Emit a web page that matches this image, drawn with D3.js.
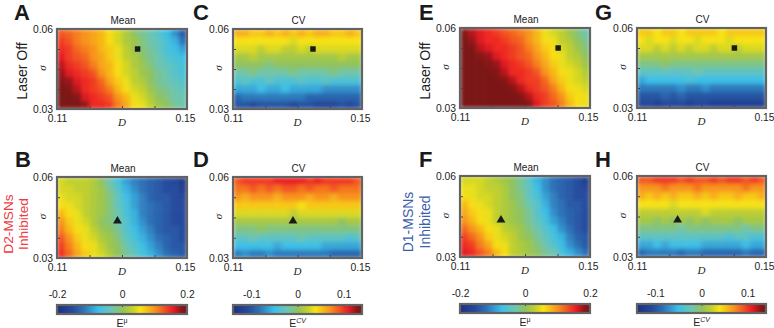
<!DOCTYPE html>
<html>
<head>
<meta charset="utf-8">
<script src="https://cdn.jsdelivr.net/npm/d3@7"></script>
<style>
  body { margin: 0; background: #fff; }
  text { font-family: "Liberation Sans", Arial, sans-serif; fill: #222; }
  .sym { font-family: "Liberation Serif", serif; font-style: italic; }
</style>
</head>
<body>
<svg id="chart" width="774" height="328"></svg>
<script>
var meanA = [
  [13,12,11,10,9,8,6,4,2,0,-2,-3,-5,-7,-10,-14],
  [14,13,11,10,9,8,6,4,2,1,-1,-3,-4,-6,-8,-12],
  [15,14,12,11,10,8,7,5,3,1,-1,-2,-4,-6,-7,-9],
  [16,14,13,12,10,9,7,5,3,2,0,-2,-3,-5,-6,-7],
  [17,15,14,13,11,9,8,6,4,2,1,-1,-3,-4,-5,-6],
  [18,16,15,14,13,10,8,6,4,3,1,0,-2,-3,-5,-6],
  [19,18,16,15,14,12,9,7,5,3,2,0,-2,-3,-4,-5],
  [20,19,17,15,14,13,11,8,6,4,3,1,-1,-2,-3,-4],
  [20,20,19,16,15,14,13,10,8,5,4,2,0,-1,-3,-3],
  [20,20,20,18,15,15,14,11,9,6,5,3,1,0,-2,-3]
];
var meanB = [
  [4,3,3,3,2,0,-3,-6,-9,-11,-12,-13,-14,-15,-16,-18],
  [4,4,3,3,2,1,-2,-5,-8,-10,-12,-13,-14,-15,-15,-17],
  [5,4,4,3,2,1,-1,-4,-7,-9,-11,-13,-14,-14,-15,-16],
  [6,5,4,3,2,1,-1,-4,-6,-9,-11,-12,-13,-14,-15,-15],
  [8,6,5,3,2,1,-1,-3,-6,-8,-11,-12,-13,-14,-15,-15],
  [10,7,5,4,2,0,-1,-3,-5,-8,-10,-12,-13,-14,-15,-15],
  [11,8,6,5,3,1,0,-2,-5,-7,-9,-11,-13,-14,-14,-15],
  [13,10,7,5,4,2,1,-1,-4,-6,-8,-10,-12,-13,-14,-15],
  [14,11,8,6,5,3,1,0,-3,-5,-7,-9,-11,-13,-14,-14],
  [15,12,9,7,5,4,2,0,-2,-4,-6,-8,-10,-12,-13,-14]
];
var meanE = [
  [19,17,16,15,14,13,12,11,10,8,5,4,3,1,-1,-3],
  [20,18,16,15,15,14,13,12,10,8,6,5,3,2,0,-2],
  [20,20,17,16,15,15,14,13,11,9,7,6,4,3,1,-1],
  [20,20,19,18,16,15,14,13,12,10,8,6,5,3,2,0],
  [20,20,20,19,18,16,15,14,13,11,9,7,5,4,3,1],
  [20,20,20,20,19,17,15,15,14,13,10,8,6,5,4,2],
  [20,20,20,20,20,19,17,15,14,14,12,9,7,5,4,3],
  [20,20,20,20,20,20,19,17,15,14,13,11,8,6,5,4],
  [20,20,20,20,20,20,20,19,17,15,14,12,10,7,6,5],
  [20,20,20,20,20,20,20,20,19,16,14,13,11,8,6,5]
];
var meanF = [
  [4,4,4,3,2,1,0,-2,-5,-8,-10,-12,-13,-14,-15,-17],
  [5,5,4,3,3,2,0,-2,-4,-7,-10,-12,-13,-14,-15,-16],
  [6,5,4,4,3,2,0,-1,-4,-6,-9,-11,-13,-14,-15,-15],
  [8,6,5,4,3,2,1,-1,-3,-5,-8,-11,-12,-14,-14,-15],
  [9,7,6,5,3,2,1,0,-2,-5,-7,-10,-12,-13,-14,-15],
  [10,8,6,5,3,2,1,0,-2,-4,-6,-9,-11,-13,-14,-15],
  [12,10,8,6,5,3,2,1,-1,-3,-5,-7,-10,-12,-14,-15],
  [14,12,10,7,5,4,3,1,0,-2,-4,-6,-8,-11,-13,-14],
  [15,14,11,9,6,5,3,2,1,-1,-3,-5,-7,-10,-12,-14],
  [16,15,13,11,8,6,3,2,1,0,-2,-3,-6,-8,-10,-12]
];
var cvC = [
  [6,6,5,5,6,5,6,5,6,5,6,6,5,5,6,5],
  [4,4,4,4,4,4,4,3,4,4,4,4,4,4,4,4],
  [3,3,3,2,3,3,2,2,3,2,3,3,3,3,3,3],
  [1,1,2,1,1,1,1,1,1,1,1,1,1,2,1,1],
  [0,0,0,0,-1,0,0,0,0,0,0,0,0,0,0,0],
  [-2,-2,-1,-2,-2,-2,-2,-1,-2,-2,-2,-2,-1,-2,-2,-2],
  [-4,-3,-4,-4,-3,-4,-4,-4,-3,-4,-4,-3,-4,-4,-4,-4],
  [-6,-6,-6,-5,-6,-6,-5,-6,-6,-6,-6,-7,-7,-7,-7,-7],
  [-9,-8,-8,-8,-8,-8,-8,-8,-8,-9,-9,-9,-9,-9,-9,-9],
  [-10,-10,-11,-10,-10,-10,-10,-11,-10,-10,-11,-11,-11,-10,-11,-10]
];
var cvD = [
  [9,10,10,10,10,11,11,11,11,10,11,10,10,10,10,9],
  [8,8,9,8,9,8,9,9,8,9,8,8,9,8,8,8],
  [7,6,7,7,7,6,7,7,7,6,7,7,6,7,7,7],
  [5,5,5,5,5,5,5,5,4,5,5,5,5,5,5,5],
  [3,3,3,3,3,3,3,2,3,3,3,3,3,3,3,3],
  [1,1,1,1,1,1,1,1,1,1,1,1,1,0,1,1],
  [-1,-1,-1,0,-1,-1,-1,-1,-1,-1,-1,-1,-1,-1,-1,-1],
  [-3,-3,-2,-3,-3,-3,-3,-3,-2,-3,-3,-3,-3,-3,-4,-3],
  [-5,-5,-5,-5,-5,-6,-5,-5,-5,-5,-5,-6,-6,-6,-6,-6],
  [-8,-7,-8,-8,-7,-8,-8,-8,-8,-8,-8,-8,-9,-9,-9,-9]
];
var cvG = [
  [5,5,4,5,5,4,5,5,5,5,4,5,5,5,5,5],
  [4,3,4,4,3,4,4,3,4,4,4,3,4,4,4,4],
  [3,3,2,3,2,3,2,3,3,2,3,3,2,3,3,3],
  [1,1,1,1,1,1,1,1,1,1,1,1,1,1,1,1],
  [-1,-1,-1,0,-1,-1,-1,-1,-1,-1,-1,-1,-1,-1,-1,-1],
  [-3,-3,-3,-3,-3,-3,-3,-2,-3,-3,-3,-3,-3,-3,-3,-3],
  [-6,-5,-5,-5,-5,-5,-4,-5,-5,-5,-5,-5,-5,-5,-5,-5],
  [-8,-8,-8,-8,-8,-7,-8,-8,-7,-8,-8,-8,-8,-8,-8,-8],
  [-10,-10,-10,-9,-10,-9,-10,-10,-10,-10,-10,-10,-10,-10,-10,-10],
  [-11,-11,-12,-11,-11,-11,-12,-11,-11,-12,-12,-12,-12,-12,-12,-12]
];
var cvH = [
  [9,9,10,10,10,9,10,9,9,10,9,10,10,9,10,9],
  [7,7,7,8,7,7,7,8,7,7,7,7,7,8,7,7],
  [6,5,6,5,6,5,5,6,5,6,5,5,6,5,5,6],
  [4,4,4,4,3,4,4,4,4,4,4,4,4,4,4,4],
  [2,2,2,2,2,2,2,2,3,2,2,2,2,2,2,2],
  [1,1,0,1,0,1,0,1,0,1,1,1,0,1,1,1],
  [-1,-1,-1,-1,-1,-2,-1,-1,-1,-1,-1,-1,-1,-2,-1,-1],
  [-3,-3,-3,-3,-3,-3,-3,-3,-3,-3,-3,-4,-3,-3,-4,-4],
  [-6,-6,-5,-6,-5,-5,-5,-5,-6,-6,-6,-6,-6,-5,-6,-6],
  [-9,-8,-8,-8,-8,-9,-8,-8,-9,-9,-9,-9,-9,-8,-9,-9]
];

// marker positions [D, sigma]
var laserOffD2 = [0.1348, 0.0525];
var laserOffD1 = [0.1402, 0.0525];
var inhibitedD2 = [0.1286, 0.0437];
var inhibitedD1 = [0.1226, 0.0437];

var dTicks = [0.11, 0.12, 0.13, 0.14, 0.15];
var sigmaTicks = [0.03, 0.0375, 0.045, 0.0525, 0.06];
var meanBarTicks = [-0.2, 0, 0.2];
var cvBarTicks = [-0.1, 0, 0.1];
var colorStops = [
  [0, "#1d2f80"], [0.12, "#264a9c"], [0.2, "#2d6fb6"], [0.32, "#3cbfe8"],
  [0.42, "#6cc5b4"], [0.51, "#93c355"], [0.58, "#c3d02c"], [0.64, "#f7e414"],
  [0.75, "#f7941d"], [0.89, "#ed1c24"], [0.96, "#8a1518"], [1, "#7c1517"]
];

var svg = d3.select("#chart");
var dRange = [0.11, 0.15], sigmaRange = [0.03, 0.06];
var colorT = d3.scaleLinear()
  .domain(colorStops.map(function (d) { return d[0]; }))
  .range(colorStops.map(function (d) { return d[1]; }))
  .clamp(true);

var defs = svg.append("defs");
var blur = defs.append("filter").attr("id", "soft")
  .attr("x", 0).attr("y", 0).attr("width", 1).attr("height", 1);
blur.append("feGaussianBlur").attr("stdDeviation", 2).attr("edgeMode", "duplicate");

function panel(opt) {
  var w = opt.x1 - opt.x0, h = opt.y1 - opt.y0;
  var g = svg.append("g").attr("transform", "translate(" + opt.x0 + "," + opt.y0 + ")");
  var x = d3.scaleLinear().domain(dRange).range([0, w]);
  var y = d3.scaleLinear().domain(sigmaRange).range([h, 0]);
  var col = d3.scaleBand().domain(d3.range(opt.data[0].length)).range([0, w]);
  var row = d3.scaleBand().domain(d3.range(opt.data.length)).range([0, h]);
  var t = d3.scaleLinear().domain([-opt.limit, opt.limit]).range([0, 1]);

  var clipId = "clip" + opt.id;
  defs.append("clipPath").attr("id", clipId).append("rect").attr("width", w).attr("height", h);

  g.append("g").attr("clip-path", "url(#" + clipId + ")")
    .append("g").attr("filter", "url(#soft)")
    .selectAll("g").data(opt.data).join("g")
    .attr("transform", function (d, i) { return "translate(0," + row(i) + ")"; })
    .selectAll("rect").data(function (d) { return d; }).join("rect")
    .attr("x", function (d, i) { return col(i); })
    .attr("width", col.bandwidth() + 0.5)
    .attr("height", row.bandwidth() + 0.5)
    .attr("fill", function (d) { return colorT(t(d / 100)); });

  var xAxis = d3.axisBottom(x).tickValues(dTicks).tickSize(-3).tickPadding(6)
    .tickFormat(function (d) { return d === 0.11 || d === 0.15 ? d3.format(".2f")(d) : ""; });
  var yAxis = d3.axisLeft(y).tickValues(sigmaTicks).tickSize(-3).tickPadding(4)
    .tickFormat(function (d) { return d === 0.03 || d === 0.06 ? d3.format(".2f")(d) : ""; });
  var xa = g.append("g").attr("transform", "translate(0," + h + ")").call(xAxis);
  var ya = g.append("g").call(yAxis);
  [xa, ya].forEach(function (a) {
    a.select(".domain").remove();
    a.selectAll("line").attr("stroke", "#444");
    a.selectAll("text").attr("font-size", 10.3).attr("fill", "#222");
  });
  // the right hand label sits a little inside the corner
  xa.selectAll("text").attr("dx", function (d) { return d === 0.15 ? -2 : 0; });

  g.append("rect").attr("width", w).attr("height", h)
    .attr("fill", "none").attr("stroke", "#636363").attr("stroke-width", 2.2);

  g.append("text").attr("x", w / 2 + 1).attr("y", -5).attr("text-anchor", "middle")
    .attr("font-size", 10).text(opt.title);
  g.append("text").attr("class", "sym").attr("x", w / 2).attr("y", h + 17)
    .attr("text-anchor", "middle").attr("font-size", 11).text("D");
  g.append("text").attr("class", "sym").attr("text-anchor", "middle").attr("font-size", 11)
    .attr("transform", "translate(-11," + (h / 2 - 1) + ") rotate(-90)").text("σ");

  var symbol = d3.symbol().type(opt.marker === "square" ? d3.symbolSquare : d3.symbolTriangle)
    .size(opt.marker === "square" ? 30 : 34);
  g.append("path").attr("d", symbol)
    .attr("transform", "translate(" + x(opt.point[0]) + "," + y(opt.point[1]) + ")")
    .attr("fill", "#1a1a1a");
}

function colorbar(opt) {
  var w = opt.x1 - opt.x0, h = opt.y1 - opt.y0;
  var g = svg.append("g").attr("transform", "translate(" + opt.x0 + "," + opt.y0 + ")");
  var x = d3.scaleLinear().domain([-opt.limit, opt.limit]).range([0, w]);
  var id = "bar" + opt.id;
  defs.append("linearGradient").attr("id", id)
    .selectAll("stop").data(colorStops).join("stop")
    .attr("offset", function (d) { return d[0]; })
    .attr("stop-color", function (d) { return d[1]; });
  g.append("rect").attr("width", w).attr("height", h).attr("fill", "url(#" + id + ")");

  var axis = d3.axisTop(x).tickValues(opt.ticks).tickSize(-2).tickPadding(7)
    .tickFormat(function (d) { return d === 0 ? "0" : d3.format(".1f")(d).replace("−", "-"); });
  var a = g.append("g").call(axis);
  a.select(".domain").remove();
  a.selectAll("line").attr("stroke", "#444");
  a.selectAll("text").attr("font-size", 10.3).attr("fill", "#222").attr("y", -7);

  g.append("rect").attr("width", w).attr("height", h)
    .attr("fill", "none").attr("stroke", "#636363").attr("stroke-width", 2.2);

  var label = g.append("text").attr("x", w / 2).attr("y", h + 13)
    .attr("text-anchor", "middle").attr("font-size", 10.5);
  label.append("tspan").text("E");
  label.append("tspan").attr("dy", -4).attr("font-size", 7)
    .attr("font-style", opt.italic ? "italic" : null).text(opt.sup);
}

function rotated(x, y, size, color, str) {
  svg.append("text").attr("text-anchor", "middle").attr("font-size", size).style("fill", color)
    .attr("transform", "translate(" + x + "," + y + ") rotate(-90)").text(str);
}

var colA = [57, 187], colC = [233, 362], colE = [460, 590], colG = [637, 766];
panel({ id: "A", x0: colA[0], x1: colA[1], y0: 29, y1: 109, data: meanA, limit: 0.2, title: "Mean", marker: "square", point: laserOffD2 });
panel({ id: "C", x0: colC[0], x1: colC[1], y0: 29, y1: 109, data: cvC, limit: 0.14, title: "CV", marker: "square", point: laserOffD2 });
panel({ id: "E", x0: colE[0], x1: colE[1], y0: 28, y1: 108, data: meanE, limit: 0.2, title: "Mean", marker: "square", point: laserOffD1 });
panel({ id: "G", x0: colG[0], x1: colG[1], y0: 28, y1: 108, data: cvG, limit: 0.14, title: "CV", marker: "square", point: laserOffD1 });
panel({ id: "B", x0: colA[0], x1: colA[1], y0: 177, y1: 258, data: meanB, limit: 0.2, title: "Mean", marker: "triangle", point: inhibitedD2 });
panel({ id: "D", x0: colC[0], x1: colC[1], y0: 177, y1: 258, data: cvD, limit: 0.14, title: "CV", marker: "triangle", point: inhibitedD2 });
panel({ id: "F", x0: colE[0], x1: colE[1], y0: 176, y1: 257, data: meanF, limit: 0.2, title: "Mean", marker: "triangle", point: inhibitedD1 });
panel({ id: "H", x0: colG[0], x1: colG[1], y0: 176, y1: 257, data: cvH, limit: 0.14, title: "CV", marker: "triangle", point: inhibitedD1 });

colorbar({ id: "1", x0: colA[0], x1: colA[1], y0: 305, y1: 314, limit: 0.2, ticks: meanBarTicks, sup: "μ" });
colorbar({ id: "2", x0: colC[0], x1: colC[1], y0: 305, y1: 314, limit: 0.14, ticks: cvBarTicks, sup: "CV", italic: true });
colorbar({ id: "3", x0: colE[0], x1: colE[1], y0: 304, y1: 313, limit: 0.2, ticks: meanBarTicks, sup: "μ" });
colorbar({ id: "4", x0: colG[0], x1: colG[1], y0: 304, y1: 313, limit: 0.14, ticks: cvBarTicks, sup: "CV", italic: true });

rotated(27, 71, 14, "#222", "Laser Off");
rotated(430, 71, 14, "#222", "Laser Off");
rotated(12.5, 224, 13.7, "#ee3a43", "D2-MSNs");
rotated(28, 224, 13.7, "#ee3a43", "Inhibited");
rotated(413, 222, 14, "#3a5fae", "D1-MSNs");
rotated(430, 222, 14, "#3a5fae", "Inhibited");

var letters = ["A", "B", "C", "D", "E", "F", "G", "H"];
var letterX = [14, 15, 193, 193, 419, 419, 595, 595];
var letterY = [20, 167, 20, 167, 20, 167, 20, 167];
svg.selectAll(".letter").data(letters).join("text")
  .attr("class", "letter")
  .attr("x", function (d, i) { return letterX[i]; })
  .attr("y", function (d, i) { return letterY[i]; })
  .attr("font-size", 22).attr("font-weight", "bold").style("fill", "#1a1a1a")
  .text(function (d) { return d; });
</script>
</body>
</html>
